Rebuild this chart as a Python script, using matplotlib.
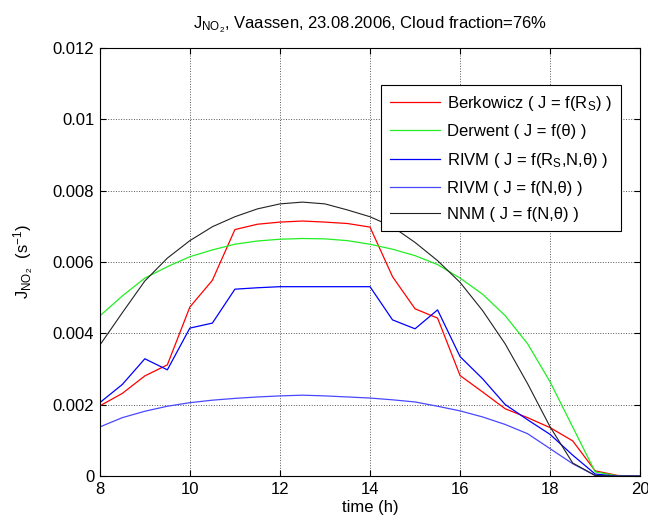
import numpy as np
import matplotlib.pyplot as plt
from matplotlib.ticker import FuncFormatter

# 時刻 (h)
hours = [8, 8.5, 9, 9.5, 10, 10.5, 11, 11.5, 12, 12.5, 13, 13.5, 14,
         14.5, 15, 15.5, 16, 16.5, 17, 17.5, 18, 18.5, 19, 19.5, 20]

berkowicz = [0.00197, 0.00232, 0.00281, 0.00312, 0.00474, 0.00549, 0.00691, 0.00706, 0.00712,
             0.00715, 0.00712, 0.00708, 0.00698, 0.00559, 0.00469, 0.00443, 0.00282, 0.00236,
             0.00189, 0.00164, 0.00136, 0.00099, 0.00015, 0.00002, 0.0]
derwent = [0.00449, 0.00505, 0.00555, 0.00587, 0.00615, 0.00634, 0.00650, 0.00659, 0.00664,
           0.00666, 0.00665, 0.00660, 0.00650, 0.00636, 0.00618, 0.00593, 0.00555, 0.00510,
           0.00450, 0.00371, 0.00264, 0.00138, 0.00012, 0.00001, 0.0]
rivm_rs = [0.00206, 0.00257, 0.00329, 0.00298, 0.00415, 0.00429, 0.00524, 0.00528, 0.00531,
           0.00531, 0.00531, 0.00531, 0.00531, 0.00438, 0.00413, 0.00466, 0.00335, 0.00273,
           0.00201, 0.00158, 0.00117, 0.00059, 0.00006, 0.0, 0.0]
rivm_n = [0.00138, 0.00164, 0.00182, 0.00196, 0.00206, 0.00213, 0.00218, 0.00222, 0.00225,
          0.00227, 0.00225, 0.00222, 0.00219, 0.00214, 0.00208, 0.00196, 0.00183, 0.00166,
          0.00145, 0.00119, 0.00077, 0.00035, 0.00002, 0.0, 0.0]
nnm = [0.00367, 0.00458, 0.00547, 0.00611, 0.00660, 0.00699, 0.00727, 0.00749, 0.00763,
       0.00768, 0.00763, 0.00746, 0.00727, 0.00699, 0.00655, 0.00604, 0.00543, 0.00464,
       0.00371, 0.00259, 0.00138, 0.00037, 0.00002, 0.0, 0.0]

labels = ['Berkowicz ( J = f(R$_\\mathrm{S}$) )',
          'Derwent ( J = f(θ) )',
          'RIVM ( J = f(R$_\\mathrm{S}$,N,θ) )',
          'RIVM ( J = f(N,θ) )',
          'NNM ( J = f(N,θ) )']

#文字
plt.rcParams['font.family'] = ['Liberation Sans', 'DejaVu Sans']
plt.rcParams['font.size'] = 12
plt.rcParams['mathtext.fontset'] = 'custom'
plt.rcParams['mathtext.rm'] = 'Liberation Sans'
plt.rcParams['mathtext.it'] = 'Liberation Sans'
#目盛線
plt.rcParams['xtick.direction'] = 'in'
plt.rcParams['ytick.direction'] = 'in'

fig = plt.figure(figsize=(6.48, 5.21), dpi=100)
ax = fig.add_axes([0.154, 0.086, 0.834, 0.822])

ax.plot(hours, berkowicz, '-', color='#ff0000', lw=0.9, label=labels[0])
ax.plot(hours, derwent, '-', color='#22ee22', lw=0.9, label=labels[1])
ax.plot(hours, rivm_rs, '-', color='#0000ff', lw=0.9, label=labels[2])
ax.plot(hours, rivm_n, '-', color='#4848ff', lw=0.9, label=labels[3])
ax.plot(hours, nnm, '-', color='#222222', lw=0.8, label=labels[4])

ax.set_xlim(8, 20)
ax.set_ylim(0, 0.012)
ax.set_xticks(np.arange(8, 21, 2))
ax.set_yticks(np.arange(0, 0.0121, 0.002))
ax.yaxis.set_major_formatter(FuncFormatter(lambda v, p: '%g' % round(v, 4)))
ax.tick_params(top=True, right=True, length=4, width=0.8, labelsize=12, pad=4)
ax.grid(True, linestyle=':', color='#555555', lw=0.7)
for s in ax.spines.values():
    s.set_linewidth(0.8)

ax.set_xlabel('time (h)', labelpad=2)
ax.set_ylabel('J$_{\\mathrm{NO}_2}$  (s$^{-1}$)', labelpad=12)
ax.set_title('J$_{\\mathrm{NO}_2}$, Vaassen, 23.08.2006, Cloud fraction=76%', fontsize=12, pad=14)

leg = ax.legend(loc='upper right', bbox_to_anchor=(0.965, 0.914), borderaxespad=0,
                fancybox=False, edgecolor='black', framealpha=1, fontsize=12,
                handlelength=3.0, borderpad=0.55, labelspacing=0.68, handletextpad=0.4)
leg.get_frame().set_linewidth(0.8)

fig.savefig('out.png', dpi=100)
